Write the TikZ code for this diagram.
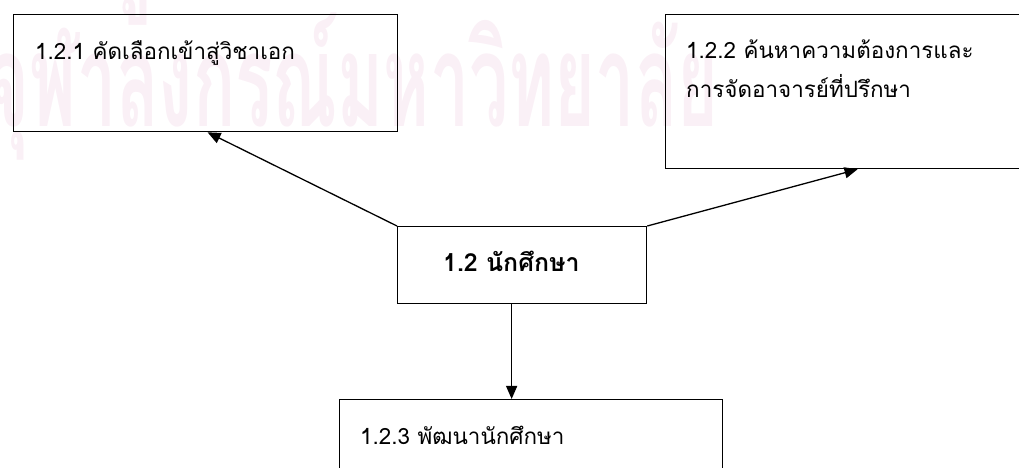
\documentclass[tikz,border=0pt]{standalone}
\usepackage{fontspec}
\newfontfamily\thai[Script=Thai]{Loma}
\usetikzlibrary{arrows.meta,calc}
\definecolor{wm}{HTML}{FAF0F6}
\tikzset{
  box/.style={draw, line width=1.3bp, inner sep=0, anchor=north west},
  conn/.style={line width=1.3bp, -{Triangle[length=13bp,width=11bp]}},
  lbl/.style={font=\thai\fontsize{22.5}{26}\selectfont, anchor=base west, inner sep=0},
  mainlbl/.style={font=\thai\bfseries\fontsize{25}{30}\selectfont, anchor=base west, inner sep=0},
  wmark/.style={font=\thai\bfseries\fontsize{130}{130}\selectfont, text=wm, anchor=base west, inner sep=0}
}
\begin{document}
\begin{tikzpicture}[x=1bp,y=-1bp]
\useasboundingbox (0,0) rectangle (1019,468);
\begin{scope}
\clip (0,0) rectangle (1019,468);
% watermark
\node[wmark] (w1) at (107,-6) {\scalebox{0.55}[1]{ศูนย์วิทยทรัพยากร}};
\node[wmark] (w2) at (-12,127) {\scalebox{0.54}[1]{จุฬาลงกรณ์มหาวิทยาลัย}};
% boxes
\node[box, minimum width=384bp, minimum height=117bp] (b1) at (13,14) {};
\node[box, minimum width=380bp, minimum height=154bp] (b2) at (665,14) {};
\node[box, minimum width=249bp, minimum height=77bp] (c) at (397,226) {};
\node[box, minimum width=383bp, minimum height=121bp] (b3) at (339,399) {};
\end{scope}
% texts
\node[lbl] (t1) at (35,60) {1.2.1 คัดเลือกเข้าสู่วิชาเอก};
\node[lbl] (t2) at (686,59) {1.2.2 ค้นหาความต้องการและ};
\node[lbl] (t2b) at (686,98) {การจัดอาจารย์ที่ปรึกษา};
\node[mainlbl] (tc) at (443,272) {1.2 นักศึกษา};
\node[lbl] (t3) at (360,444) {1.2.3 พัฒนานักศึกษา};
% connectors
\draw[conn] (c.north west) -- ($(b1.south west)!0.505!(b1.south east)$);
\draw[conn] (c.north east) -- ($(b2.south west)!0.505!(b2.south east)$);
\coordinate (v) at ($(c.south west)!0.458!(c.south east)$);
\draw[conn] (v) -- (v |- b3.north);
\end{tikzpicture}
\end{document}
